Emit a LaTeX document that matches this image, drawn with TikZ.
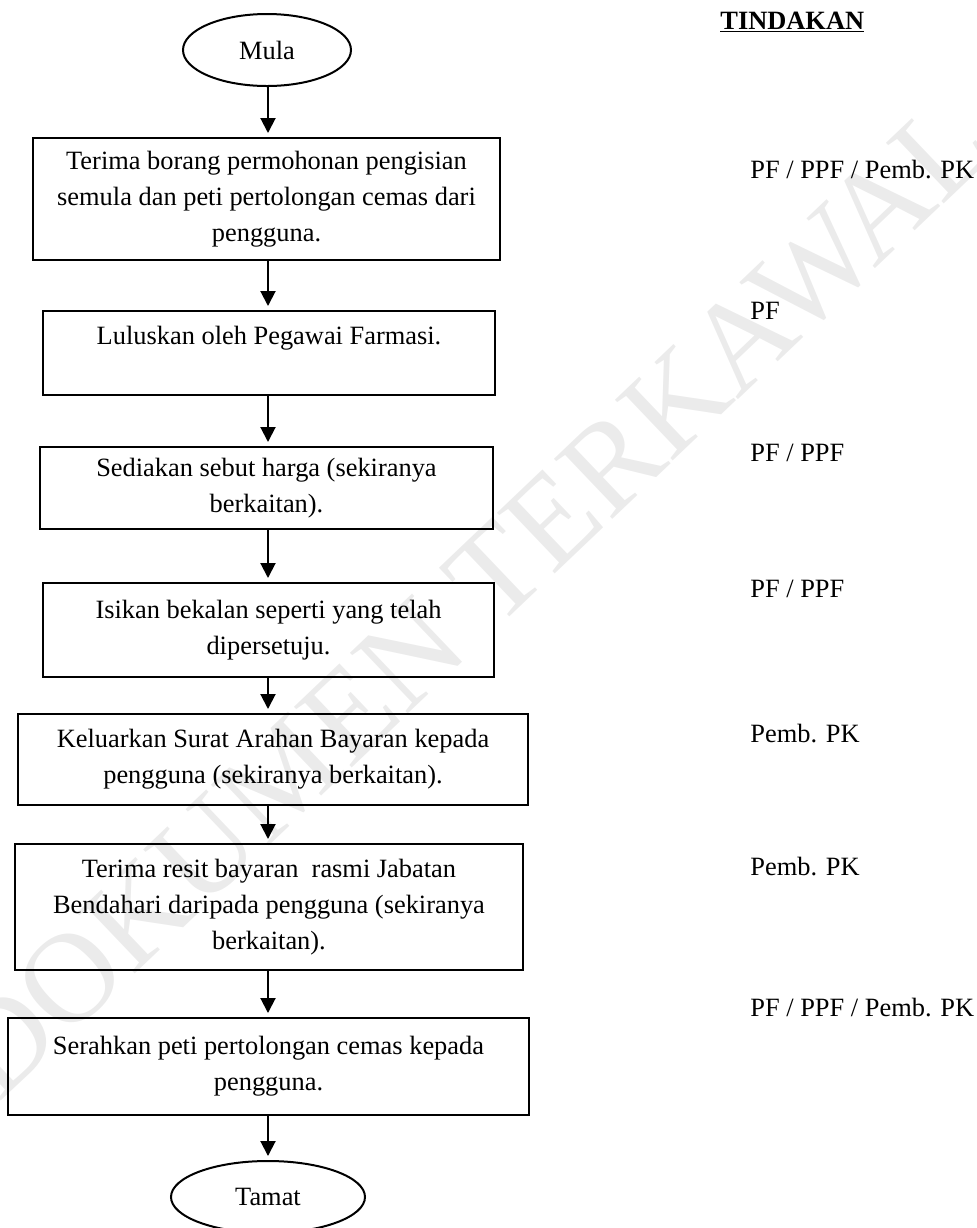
\documentclass[tikz,border=0pt]{standalone}
\usepackage{fontspec}
\setmainfont{Liberation Serif}
\usetikzlibrary{shapes.geometric,arrows.meta}
\begin{document}
\begin{tikzpicture}[x=0.5pt,y=-0.5pt,
 every node/.style={font=\fontsize{13.2}{18}\selectfont},
 stepbox/.style={draw, line width=1pt, rectangle, inner sep=0pt, align=center},
 term/.style={draw, line width=1pt, ellipse, inner sep=0pt},
 flow/.style={line width=1pt, -{Triangle[length=7.5pt,width=7.5pt]}, shorten >=2pt},
 role/.style={anchor=base west, inner sep=0pt},
 wmark/.style={text=black!8, rotate=43.6, inner sep=0pt, font=\fontsize{64}{64}\selectfont}]
\clip (0,0) rectangle (977,1228);
% watermark
\node[wmark] (wm) at (470,598) {DOKUMEN TERKAWAL};
% flow nodes
\node[term, minimum width=84pt, minimum height=36pt] (mula) at (267,50) {Mula};
\node[stepbox, minimum width=233.5pt, minimum height=61pt] (b1) at (266.5,199)
  {Terima borang permohonan pengisian\\semula dan peti pertolongan cemas dari\\pengguna.};
\node[stepbox, minimum width=226pt, minimum height=42pt] (b2) at (269,353)
  {Luluskan oleh Pegawai Farmasi.\\\mbox{}};
\node[stepbox, minimum width=226.5pt, minimum height=41pt] (b3) at (266.5,488)
  {Sediakan sebut harga (sekiranya\\berkaitan).};
\node[stepbox, minimum width=225.5pt, minimum height=47pt] (b4) at (268.5,630)
  {Isikan bekalan seperti yang telah\\dipersetuju.};
\node[stepbox, minimum width=255pt, minimum height=45.5pt] (b5) at (273,759.5)
  {Keluarkan Surat Arahan Bayaran kepada\\pengguna (sekiranya berkaitan).};
\node[stepbox, minimum width=254pt, minimum height=63pt] (b6) at (269,907)
  {Terima resit bayaran\ \ rasmi Jabatan\\Bendahari daripada pengguna (sekiranya\\berkaitan).};
\node[stepbox, minimum width=260.5pt, minimum height=48.5pt] (b7) at (268.5,1066.5)
  {Serahkan peti pertolongan cemas kepada\\pengguna.};
\node[term, minimum width=97pt, minimum height=36pt] (tamat) at (268,1197) {Tamat};
% connectors
\coordinate (ax) at (268,0);
\draw[flow] (mula.south -| ax) -- (b1.north -| ax);
\draw[flow] (b1.south -| ax) -- (b2.north -| ax);
\draw[flow] (b2.south -| ax) -- (b3.north -| ax);
\draw[flow] (b3.south -| ax) -- (b4.north -| ax);
\draw[flow] (b4.south -| ax) -- (b5.north -| ax);
\draw[flow] (b5.south -| ax) -- (b6.north -| ax);
\draw[flow] (b6.south -| ax) -- (b7.north -| ax);
\draw[flow] (b7.south -| ax) -- (tamat.north -| ax);
% action column
\node[role] (hd) at (720,29) {\underline{\textbf{TINDAKAN}}};
\node[role] (r1) at (750,178) {PF / PPF / Pemb. PK};
\node[role] (r2) at (750,319) {PF};
\node[role] (r3) at (750,461) {PF / PPF};
\node[role] (r4) at (750,597) {PF / PPF};
\node[role] (r5) at (750,742) {Pemb. PK};
\node[role] (r6) at (750,875) {Pemb. PK};
\node[role] (r7) at (750,1016) {PF / PPF / Pemb. PK};
\end{tikzpicture}
\end{document}
